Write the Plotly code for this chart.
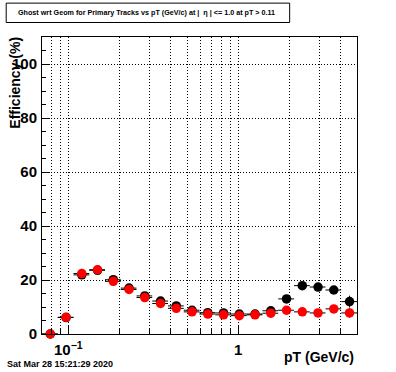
import plotly.graph_objects as go

# 20 equal-log bins from 0.07 to 5 GeV/c
bin_edges = [0.07, 0.08666, 0.10727, 0.13280, 0.16439, 0.20350, 0.25192, 0.31185,
             0.38604, 0.47789, 0.59159, 0.73232, 0.90655, 1.1222, 1.3892, 1.7197,
             2.1289, 2.6353, 3.2624, 4.0386, 5.0]

eff_black = [0.0, 6.1, 21.9, 23.6, 20.1, 17.0, 14.1, 12.2, 10.4, 8.8,
             7.9, 7.8, 7.4, 7.4, 8.6, 13.0, 17.9, 17.4, 16.3, 12.0]
err_black = [0.0, 0.6, 0.7, 0.7, 0.6, 0.6, 0.5, 0.5, 0.5, 0.5,
             0.5, 0.5, 0.5, 0.6, 0.7, 0.9, 1.0, 1.1, 1.3, 2.2]
eff_red = [0.0, 6.2, 22.4, 23.8, 19.5, 16.5, 13.5, 11.3, 9.5, 8.2,
           7.4, 7.1, 6.8, 7.1, 7.7, 8.8, 8.2, 7.8, 9.3, 7.8]
err_red = [0.0, 0.6, 0.7, 0.7, 0.6, 0.5, 0.5, 0.5, 0.4, 0.4,
           0.4, 0.4, 0.4, 0.5, 0.6, 0.7, 0.8, 0.9, 1.2, 1.7]

x_major = [0.1, 1]
x_major_text = ["10<sup>\u22121</sup>", "1"]
x_minor = [0.08, 0.09, 0.2, 0.3, 0.4, 0.5, 0.6, 0.7, 0.8, 0.9, 2, 3, 4]

centers = [(bin_edges[i] + bin_edges[i + 1]) / 2 for i in range(len(bin_edges) - 1)]
ex_plus = [bin_edges[i + 1] - c for i, c in enumerate(centers)]
ex_minus = [c - bin_edges[i] for i, c in enumerate(centers)]

FONT = "Liberation Sans"
DOT = "1px,2px"

fig = go.Figure()
for y, e, col in [(eff_black, err_black, "black"), (eff_red, err_red, "red")]:
    fig.add_trace(go.Scatter(
        x=centers, y=y, mode="markers",
        marker=dict(color=col, size=9.5, symbol="circle"),
        error_x=dict(type="data", symmetric=False, array=ex_plus, arrayminus=ex_minus,
                     color="black", thickness=1, width=0),
        error_y=dict(type="data", array=e, color="black", thickness=1, width=0),
        cliponaxis=False, showlegend=False, hoverinfo="skip",
    ))

L, R, T, B = 40, 356.7, 37.2, 334.5
W, H = 396, 372
fig.update_layout(
    width=W, height=H, autosize=False,
    margin=dict(l=L, r=W - R, t=T, b=H - B, pad=0),
    paper_bgcolor="white", plot_bgcolor="white",
    font=dict(family=FONT, color="black"),
)
fig.update_xaxes(
    type="log", range=[-1.15490, 0.69897],
    tickmode="array", tickvals=x_major, ticktext=x_major_text,
    ticks="inside", ticklen=9, tickwidth=1, tickcolor="black",
    tickfont=dict(family=FONT, size=15, weight="bold"),
    showgrid=True, gridcolor="black", griddash=DOT, gridwidth=1,
    minor=dict(tickmode="array", tickvals=x_minor, ticks="inside", ticklen=5,
               tickcolor="black", showgrid=True, gridcolor="black", griddash=DOT, gridwidth=1),
    showline=True, linecolor="black", linewidth=1, mirror=True, zeroline=False,
    ticklabelstandoff=2,
)
fig.update_yaxes(
    range=[0, 110], tickmode="array", tickvals=[0, 20, 40, 60, 80, 100],
    ticks="inside", ticklen=8, tickwidth=1, tickcolor="black",
    tickfont=dict(family=FONT, size=15, weight="bold"),
    showgrid=True, gridcolor="black", griddash=DOT, gridwidth=1,
    minor=dict(tickmode="linear", tick0=0, dtick=5, ticks="inside", ticklen=4,
               tickcolor="black", showgrid=False),
    showline=True, linecolor="black", linewidth=1, mirror=True, zeroline=False,
    ticklabelstandoff=1,
)

def px(xp):
    return (xp - L) / (R - L)

def py(yp):
    return (B - yp) / (B - T)

fig.add_annotation(text="<b>Efficiency (%)</b>", textangle=-90, xref="paper", yref="paper",
                   x=px(13.3), y=py(82.5), xanchor="center", yanchor="middle",
                   showarrow=False, font=dict(family=FONT, size=14))
fig.add_annotation(text="<b>pT (GeV/c)</b>", xref="paper", yref="paper",
                   x=px(355.5), y=py(357.5), xanchor="right", yanchor="middle",
                   showarrow=False, font=dict(family=FONT, size=14))
fig.add_annotation(text="<b>Sat Mar 28 15:21:29 2020</b>", xref="paper", yref="paper",
                   x=px(2.5), y=py(364.5), xanchor="left", yanchor="middle",
                   showarrow=False, font=dict(family=FONT, size=9))
fig.add_shape(type="rect", xref="paper", yref="paper",
              x0=px(4), x1=px(289), y0=py(22.7), y1=py(3.3),
              line=dict(color="black", width=1), fillcolor="white")
fig.add_annotation(text="<b>Ghost wrt Geom for Primary Tracks vs pT (GeV/c) at |  \u03b7 | <= 1.0 at pT > 0.11</b>",
                   xref="paper", yref="paper", x=px(145), y=py(13), xanchor="center", yanchor="middle",
                   showarrow=False, font=dict(family=FONT, size=7.2))

fig.write_html("out.html", config={"displayModeBar": False},
               post_script="document.body.style.margin='0';document.body.style.padding='0';")
